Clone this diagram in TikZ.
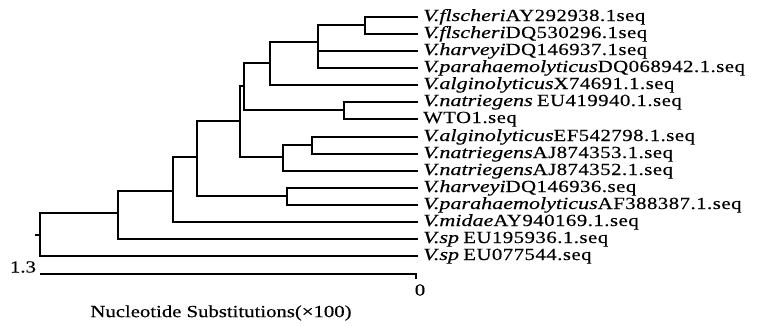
\documentclass[tikz,border=0pt]{standalone}
\usepackage{fontspec}
\setmainfont{Liberation Serif}
% species names: italic, widened
\newfontfamily\spfont{Liberation Serif}[FakeStretch=1.3,FakeBold=0.4]
% accession numbers: widened, lightly tracked
\newfontfamily\accfont{Liberation Serif}[FakeStretch=1.22,FakeBold=0.4,LetterSpace=3]
% axis text: widened
\newfontfamily\axisfont{Liberation Serif}[FakeStretch=1.22,FakeBold=0.4]
\newcommand\spname[1]{{\spfont\itshape #1}}
\newcommand\accno[1]{{\accfont #1}}

\begin{document}
\begin{tikzpicture}[x=1pt,y=-1pt,
  branch/.style={line width=1.4pt,line join=miter},
  leaf/.style={anchor=west,inner xsep=5pt,inner ysep=0pt,
    text height=8pt,text depth=0pt,font=\fontsize{17}{17}\selectfont},
  axislabel/.style={inner sep=0pt,font=\fontsize{17}{17}\selectfont\axisfont}]
\useasboundingbox (0,0) rectangle (763,325);

% leaves
\node[leaf] (t1)  at (418,17)  {\spname{V.flscheri}\accno{AY292938.1seq}};
\node[leaf] (t2)  at (418,34)  {\spname{V.flscheri}\accno{DQ530296.1seq}};
\node[leaf] (t3)  at (418,51)  {\spname{V.harveyi}\accno{DQ146937.1seq}};
\node[leaf] (t4)  at (418,68)  {\spname{V.parahaemolyticus}\accno{DQ068942.1.seq}};
\node[leaf] (t5)  at (418,85)  {\spname{V.alginolyticus}\accno{X74691.1.seq}};
\node[leaf] (t6)  at (418,102) {\spname{V.natriegens} \accno{EU419940.1.seq}};
\node[leaf] (t7)  at (418,119) {\accno{WTO1.seq}};
\node[leaf] (t8)  at (418,137) {\spname{V.alginolyticus}\accno{EF542798.1.seq}};
\node[leaf] (t9)  at (418,154) {\spname{V.natriegens}\accno{AJ874353.1.seq}};
\node[leaf] (t10) at (418,171) {\spname{V.natriegens}\accno{AJ874352.1.seq}};
\node[leaf] (t11) at (418,188) {\spname{V.harveyi}\accno{DQ146936.seq}};
\node[leaf] (t12) at (418,205) {\spname{V.parahaemolyticus}\accno{AF388387.1.seq}};
\node[leaf] (t13) at (418,222) {\spname{V.midae}\accno{AY940169.1.seq}};
\node[leaf] (t14) at (418,239) {\spname{V.sp} \accno{EU195936.1.seq}};
\node[leaf] (t15) at (418,256) {\spname{V.sp} \accno{EU077544.seq}};

% internal nodes
\coordinate (A) at (365,25);
\coordinate (B) at (318,42);
\coordinate (C) at (270,63);
\coordinate (E) at (344,110);
\coordinate (D) at (244,86);
\coordinate (H) at (312,145);
\coordinate (G) at (283,157);
\coordinate (F) at (240,121);
\coordinate (J) at (287,196);
\coordinate (I) at (197,157);
\coordinate (K) at (173,191);
\coordinate (L) at (118,213);
\coordinate (M) at (40,235);
\coordinate (root) at (35,235);

\begin{scope}[branch]
  \draw (t1.west) -| (A);  \draw (t2.west) -| (A);
  \draw (A) -| (B);  \draw (t3.west) -| (B);  \draw (t4.west) -| (B);
  \draw (B) -| (C);  \draw (t5.west) -| (C);
  \draw (t6.west) -| (E);  \draw (t7.west) -| (E);
  \draw (C) -| (D);  \draw (E) -| (D);
  \draw (t8.west) -| (H);  \draw (t9.west) -| (H);
  \draw (H) -| (G);  \draw (t10.west) -| (G);
  \draw (D) -| (F);  \draw (G) -| (F);
  \draw (t11.west) -| (J);  \draw (t12.west) -| (J);
  \draw (F) -| (I);  \draw (J) -| (I);
  \draw (I) -| (K);  \draw (t13.west) -| (K);
  \draw (K) -| (L);  \draw (t14.west) -| (L);
  \draw (L) -| (M);  \draw (t15.west) -| (M);
  \draw (M) -- (root);
\end{scope}

% scale bar
\coordinate (sbL) at (40,274);
\coordinate (sbR) at (416,274);
\coordinate (sbT) at (416,279);
\draw[branch] (sbL) -- (sbR) -- (sbT);
\node[axislabel] (lo) at (23,267) {1.3};
\node[axislabel] (hi) at (420,290) {0};
\node[axislabel] (title) at (221,313) {Nucleotide Substitutions(×100)};
\end{tikzpicture}
\end{document}
